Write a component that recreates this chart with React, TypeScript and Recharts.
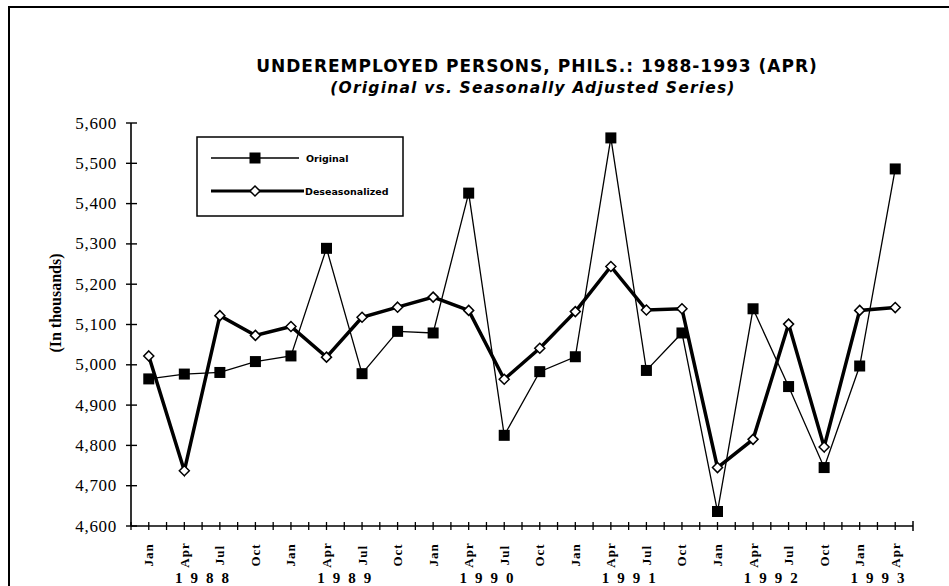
import { LineChart, Line, XAxis, YAxis, Legend } from 'recharts'

const months = [
  'Jan', 'Apr', 'Jul', 'Oct',
  'Jan', 'Apr', 'Jul', 'Oct',
  'Jan', 'Apr', 'Jul', 'Oct',
  'Jan', 'Apr', 'Jul', 'Oct',
  'Jan', 'Apr', 'Jul', 'Oct',
  'Jan', 'Apr',
]
const years = ['1988', '1989', '1990', '1991', '1992', '1993']

const original = [
  4965, 4977, 4981, 5008,
  5022, 5289, 4978, 5083,
  5079, 5426, 4825, 4983,
  5020, 5563, 4986, 5079,
  4636, 5139, 4946, 4745,
  4997, 5486,
]
const deseasonalized = [
  5022, 4737, 5122, 5073,
  5095, 5019, 5118, 5143,
  5168, 5135, 4964, 5041,
  5132, 5244, 5136, 5139,
  4745, 4815, 5101, 4796,
  5135, 5142,
]
const yTicks = [4600, 4700, 4800, 4900, 5000, 5100, 5200, 5300, 5400, 5500, 5600]

const data = months.map((m, i) => ({
  period: `${m} ${years[Math.floor(i / 4)]}`,
  original: original[i],
  deseasonalized: deseasonalized[i],
}))

const W = 949
const H = 586
const margin = { top: 123, right: 36, bottom: 0, left: 71 }
const Y_AXIS_W = 60
const X_AXIS_H = 60
const PLOT_W = W - margin.left - margin.right - Y_AXIS_W
const serif = '"Liberation Serif", "DejaVu Serif", serif'
const sans = '"DejaVu Sans", "Liberation Sans", Arial, sans-serif'

const YTick = ({ x, y, payload }: any) => (
  <g>
    <line x1={x - 5} x2={x + 6} y1={y} y2={y} stroke="#000" strokeWidth={1.4} />
    <text x={x - 14} y={y} dy={5.5} textAnchor="end" fontSize={17} letterSpacing={0.7} fontFamily={serif} fill="#000">
      {payload.value.toLocaleString('en-US')}
    </text>
  </g>
)

const XTick = ({ x, y, index }: any) => {
  const band = PLOT_W / months.length
  const yr = Math.floor(index / 4)
  const n = Math.min(4, months.length - yr * 4)
  return (
    <g>
      <line x1={x - band / 2} x2={x - band / 2} y1={y - 4} y2={y + 4} stroke="#000" strokeWidth={1.3} />
      <line x1={x} x2={x} y1={y - 4} y2={y + 4} stroke="#000" strokeWidth={1.3} />
      {index === months.length - 1 && (
        <line x1={x + band / 2} x2={x + band / 2} y1={y - 5} y2={y + 5} stroke="#000" strokeWidth={1.5} />
      )}
      <text
        transform={`translate(${x},${y + 29}) rotate(-90)`}
        textAnchor="middle"
        dominantBaseline="central"
        fontSize={13}
        fontWeight={700}
        letterSpacing={1}
        fontFamily={serif}
        fill="#000"
      >
        {months[index]}
      </text>
      {index % 4 === 0 && (
        <text
          x={x + ((n - 1) / 2) * band + 4}
          y={y + 57}
          textAnchor="middle"
          fontSize={15}
          fontWeight={700}
          letterSpacing={8}
          fontFamily={serif}
          fill="#000"
        >
          {years[yr]}
        </text>
      )}
    </g>
  )
}

const Square = ({ cx, cy, index }: any) => (
  <rect key={`sq-${index}`} x={cx - 5.5} y={cy - 5.5} width={11} height={11} fill="#000" />
)

const Diamond = ({ cx, cy, index }: any) => (
  <polygon
    key={`dm-${index}`}
    points={`${cx},${cy - 5} ${cx + 5},${cy} ${cx},${cy + 5} ${cx - 5},${cy}`}
    fill="#fff"
    stroke="#000"
    strokeWidth={1.5}
  />
)

const LegendBox = () => (
  <svg width={208} height={81} style={{ display: 'block' }}>
    <rect x={1} y={1} width={206} height={79} fill="#fff" stroke="#000" strokeWidth={1.5} />
    <line x1={15} x2={103} y1={22} y2={22} stroke="#000" strokeWidth={1.5} />
    <rect x={53.5} y={16.5} width={11} height={11} fill="#000" />
    <text x={110} y={25.5} fontSize={9.5} fontWeight={700} fontFamily={sans} fill="#000">Original</text>
    <line x1={15} x2={108} y1={55} y2={55} stroke="#000" strokeWidth={3} />
    <polygon points="59,50 64,55 59,60 54,55" fill="#fff" stroke="#000" strokeWidth={1.5} />
    <text x={109} y={58.5} fontSize={9.5} fontWeight={700} fontFamily={sans} fill="#000">Deseasonalized</text>
  </svg>
)

export default function App() {
  return (
    <div style={{ position: 'absolute', left: 0, top: 0, width: W, height: H, background: '#fff' }}>
      <LineChart width={W} height={H} data={data} margin={margin}>
        <XAxis
          dataKey="period"
          scale="band"
          interval={0}
          height={X_AXIS_H}
          tickLine={false}
          tickSize={0}
          tickMargin={0}
          tick={<XTick />}
          axisLine={{ stroke: '#000', strokeWidth: 1.6 }}
        />
        <YAxis
          domain={[4600, 5600]}
          ticks={yTicks}
          width={Y_AXIS_W}
          tickLine={false}
          tickSize={0}
          tickMargin={0}
          tick={<YTick />}
          axisLine={{ stroke: '#000', strokeWidth: 1.6 }}
        />
        <Legend
          layout="horizontal"
          align="center"
          verticalAlign="middle"
          content={<LegendBox />}
          wrapperStyle={{ left: 196, top: 136, width: 208, height: 81 }}
        />
        <Line
          dataKey="original"
          type="linear"
          stroke="#000"
          strokeWidth={1.3}
          dot={<Square />}
          activeDot={false}
          isAnimationActive={false}
        />
        <Line
          dataKey="deseasonalized"
          type="linear"
          stroke="#000"
          strokeWidth={3.5}
          dot={<Diamond />}
          activeDot={false}
          isAnimationActive={false}
        />
      </LineChart>
      <svg width={W} height={H} style={{ position: 'absolute', left: 0, top: 0, pointerEvents: 'none' }}>
        <line x1={9} x2={W} y1={7} y2={7} stroke="#000" strokeWidth={2} />
        <line x1={9} x2={9} y1={6} y2={H} stroke="#000" strokeWidth={2} />
        <text x={537} y={72} textAnchor="middle" fontSize={17} fontWeight={700} letterSpacing={1} fontFamily={sans} fill="#000">
          UNDEREMPLOYED PERSONS, PHILS.: 1988-1993 (APR)
        </text>
        <text x={533} y={93} textAnchor="middle" fontSize={15.5} fontWeight={700} fontStyle="italic" letterSpacing={1.2} fontFamily={sans} fill="#000">
          (Original vs. Seasonally Adjusted Series)
        </text>
        <text
          transform="translate(55,303) rotate(-90)"
          textAnchor="middle"
          dominantBaseline="central"
          fontSize={16}
          fontWeight={700}
          fontFamily={serif}
          fill="#000"
        >
          (In thousands)
        </text>
      </svg>
    </div>
  )
}
